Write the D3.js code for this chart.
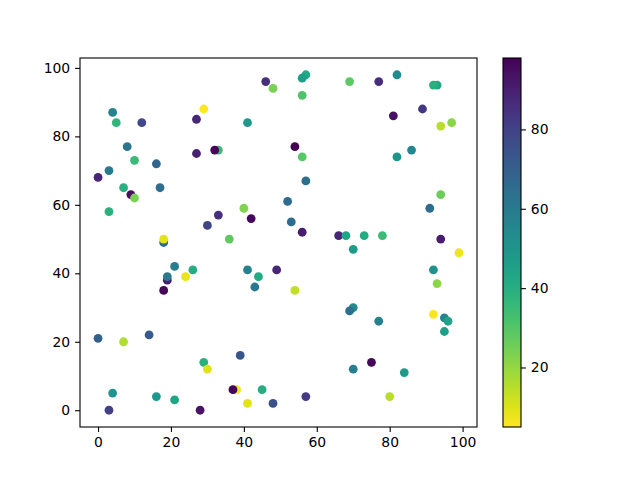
<!DOCTYPE html>
<html>
<head>
<meta charset="utf-8">
<script src="https://cdn.jsdelivr.net/npm/d3@7"></script>
<style>
  html, body { margin: 0; padding: 0; background: #fff; }
  text { font-family: "DejaVu Sans", sans-serif; }
</style>
</head>
<body>
<svg id="chart" width="640" height="480"></svg>
<script>
// Data
const xs = [46,48,29,4,5,12,27,41,8,10,16,27,33,32,3,0,
  57,56,56,69,77,82,93,92,89,81,94,97,54,56,82,86,57,
  7,9,10,17,3,40,42,33,30,36,18,18,21,26,24,19,19,18,41,44,43,49,
  52,53,56,66,68,73,78,70,94,91,94,99,92,93,54,
  0,7,14,29,30,39,38,37,45,41,48,4,3,16,21,28,
  70,69,77,92,95,96,95,75,70,84,57,80];
const ys = [96,94,88,87,84,84,85,84,77,73,72,75,76,76,70,68,
  98,97,92,96,96,98,95,95,88,86,83,84,77,74,74,76,67,
  65,63,62,65,58,59,56,57,54,50,49,50,42,41,39,38,39,35,41,39,36,41,
  61,55,52,51,51,51,51,47,63,59,50,46,41,37,35,
  21,20,22,14,12,16,6,6,6,2,2,5,0,4,3,0,
  30,29,26,28,27,26,23,14,12,11,4,4];
const cs = [85,24,5,57,37,78,88,48,62,35,68,90,35,97,60,88,
  42,46,31,28,86,53,43,39,83,94,15,21,98,29,50,55,64,
  39,95,24,65,39,23,96,85,79,28,66,9,59,40,8,91,60,97,58,42,61,88,
  66,66,91,88,43,41,35,47,26,65,91,7,51,21,14,
  70,16,72,39,10,73,7,97,40,9,75,50,80,49,43,93,
  53,64,58,6,56,44,46,96,59,47,82,15];
const xTicks = [0,20,40,60,80,100];
const yTicks = [0,20,40,60,80,100];
const cTicks = [20,40,60,80];

const svg = d3.select("#chart");
const L = 80, R = 477, T = 58, B = 427;
const cbL = 503, cbR = 521;
const fs = "13.9px";

const x = d3.scaleLinear().domain([-4.95, 103.95]).range([L, R]);
const y = d3.scaleLinear().domain([-4.9, 102.9]).range([B, T]);
const cMin = d3.min(cs), cMax = d3.max(cs);
const color = v => d3.interpolateViridis(1 - (v - cMin) / (cMax - cMin));

// Points
svg.append("g").selectAll("circle").data(xs.map((d, i) => [d, ys[i], cs[i]]))
  .join("circle")
  .attr("cx", d => x(d[0])).attr("cy", d => y(d[1]))
  .attr("r", 4.4).attr("fill", d => color(d[2]));

// Axes
const tickLen = 4.9;
const xAxis = d3.axisBottom(x).tickValues(xTicks).tickSize(tickLen).tickPadding(4.9);
const yAxis = d3.axisLeft(y).tickValues(yTicks).tickSize(tickLen).tickPadding(4.9);
const gx = svg.append("g").attr("transform", `translate(0,${B})`).call(xAxis);
const gy = svg.append("g").attr("transform", `translate(${L},0)`).call(yAxis);
[gx, gy].forEach(g => {
  g.select(".domain").remove();
  g.selectAll("line").attr("stroke", "#000").attr("stroke-width", 1.1);
  g.selectAll("text").attr("font-size", fs).attr("fill", "#000").attr("font-family", "DejaVu Sans");
});
svg.append("rect").attr("x", L).attr("y", T).attr("width", R - L).attr("height", B - T)
  .attr("fill", "none").attr("stroke", "#000").attr("stroke-width", 1.1);

// Colorbar
const defs = svg.append("defs");
const grad = defs.append("linearGradient").attr("id", "cbgrad")
  .attr("x1", 0).attr("y1", 1).attr("x2", 0).attr("y2", 0);
d3.range(0, 1.0001, 0.05).forEach(t => {
  grad.append("stop").attr("offset", t).attr("stop-color", d3.interpolateViridis(1 - t));
});
svg.append("rect").attr("x", cbL).attr("y", T).attr("width", cbR - cbL).attr("height", B - T)
  .attr("fill", "url(#cbgrad)").attr("stroke", "#000").attr("stroke-width", 1.1);
const cy = d3.scaleLinear().domain([cMin, cMax]).range([B, T]);
const cAxis = d3.axisRight(cy).tickValues(cTicks).tickSize(tickLen).tickPadding(4.9);
const gc = svg.append("g").attr("transform", `translate(${cbR},0)`).call(cAxis);
gc.select(".domain").remove();
gc.selectAll("line").attr("stroke", "#000").attr("stroke-width", 1.1);
gc.selectAll("text").attr("font-size", fs).attr("fill", "#000").attr("font-family", "DejaVu Sans");
</script>
</body>
</html>
